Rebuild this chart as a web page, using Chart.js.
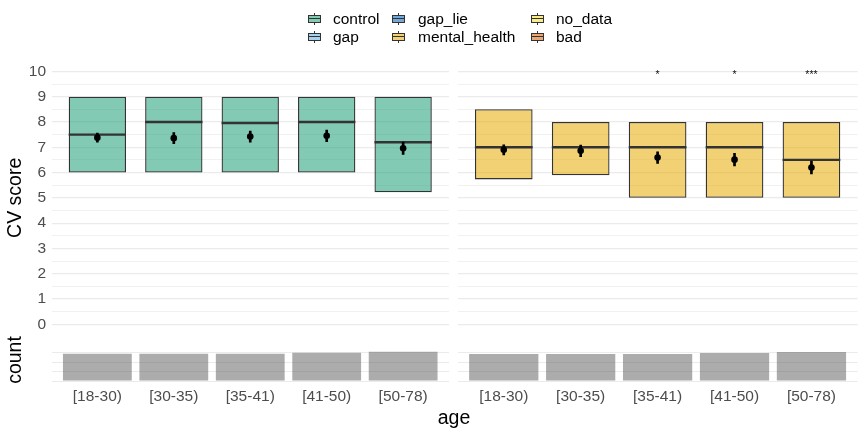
<!DOCTYPE html>
<html><head><meta charset="utf-8">
<script src="https://cdn.jsdelivr.net/npm/chart.js@4.4.1/dist/chart.umd.min.js"></script>
<style>
body{margin:0;background:#fff;font-family:"Liberation Sans",Arial,sans-serif}
#wrap{position:relative;width:864px;height:432px;overflow:hidden;background:#fff}
canvas{position:absolute;top:0}
.lt{position:absolute;font-size:15.5px;line-height:18px;color:#000;white-space:nowrap}
.key{position:absolute;width:13px;height:12px}
.key .box{position:absolute;left:0;top:2px;width:11px;height:6px;border:1px solid #333}
.key .mid{position:absolute;left:0;top:5px;width:13px;height:1px;background:#333}
.key .wt{position:absolute;left:6px;top:0;width:1px;height:2px;background:#333}
.key .wb{position:absolute;left:6px;top:10px;width:1px;height:2px;background:#333}
#age{position:absolute;left:454px;top:406px;transform:translateX(-50%);font-size:19.5px;color:#000}
</style></head>
<body><div id="wrap">
<canvas id="cl" width="453" height="432" style="left:0"></canvas>
<canvas id="cr" width="411" height="432" style="left:453px"></canvas>
<div id="age">age</div>
</div>
<script>
const ageGroups=['[18-30)','[30-35)','[35-41)','[41-50)','[50-78)'];
const yTicks=[0,1,2,3,4,5,6,7,8,9,10];
const countTicks=[0,50,100,150];
// control
const ctrlQ1=[6,6,6,6,5.22];
const ctrlQ3=[9,9,9,9,9];
const ctrlMedian=[7.5,8,7.96,8,7.2];
const ctrlMean=[7.38,7.36,7.42,7.45,6.96];
const ctrlErr=[0.18,0.22,0.22,0.23,0.245];
const ctrlCount=[145,145,145,150,155];
const ctrlSig=['','','','',''];
// mental_health
const mhQ1=[5.73,5.89,5,5,5];
const mhQ3=[8.5,8,8,8,8];
const mhMedian=[7,7,7,7,6.5];
const mhMean=[6.9,6.86,6.59,6.51,6.2];
const mhErr=[0.2,0.23,0.225,0.245,0.25];
const mhCount=[144,144,144,149,154];
const mhSig=['','','*','*','***'];
// legend
const legendNames=['control','gap','gap_lie','mental_health','no_data','bad'];
const legendColors=['rgba(27,158,119,0.55)','rgba(93,173,224,0.55)','rgba(0,97,184,0.55)','rgba(230,171,2,0.55)','rgba(242,220,46,0.55)','rgba(217,95,2,0.55)'];

const fam='"Liberation Sans", Arial, sans-serif';
Chart.defaults.font.family=fam;
const tickCol='#4D4D4D', gridCol='#EBEBEB';

// legend (3 columns x 2 rows)
const keyX=[308,392,531], textX=[333,418,556], rowY=[13,31];
legendNames.forEach((n,i)=>{
  const c=Math.floor(i/2), r=i%2;
  const k=document.createElement('div'); k.className='key';
  k.style.left=keyX[c]+'px'; k.style.top=rowY[r]+'px';
  k.innerHTML='<div class="wt"></div><div class="box" style="background:'+legendColors[i]+'"></div><div class="mid"></div><div class="wb"></div>';
  const t=document.createElement('div'); t.className='lt'; t.textContent=n;
  t.style.left=textX[c]+'px'; t.style.top=(rowY[r]-3)+'px';
  document.getElementById('wrap').append(k,t);
});

const halfGrid=[];yTicks.forEach(v=>{halfGrid.push(v);if(v<10)halfGrid.push(v+0.5)});

const extras=(med,sig)=>({
  id:'extras',
  afterDatasetDraw(chart,args){
    if(args.index!==2)return;
    const ctx=chart.ctx,y=chart.scales.y;
    ctx.save();ctx.strokeStyle='#333';ctx.lineWidth=2.4;
    args.meta.data.forEach((b,i)=>{const py=y.getPixelForValue(med[i]);ctx.beginPath();ctx.moveTo(b.x-b.width/2,py);ctx.lineTo(b.x+b.width/2,py);ctx.stroke()});
    ctx.restore();
  },
  afterDatasetsDraw(chart){
    const ctx=chart.ctx,x=chart.scales.x,y=chart.scales.y;
    ctx.save();ctx.fillStyle='#111';ctx.font='10.5px '+fam;ctx.textAlign='center';ctx.textBaseline='top';
    sig.forEach((s,i)=>{if(s)ctx.fillText(s,x.getPixelForValue(i),y.getPixelForValue(10)-1)});
    ctx.restore();
  }
});

function panel(id,q1,q3,med,mean,err,count,sig,fill,first){
  const pts=a=>a.map((v,i)=>({x:i,y:v}));
  new Chart(document.getElementById(id),{
    type:'bar',
    data:{datasets:[
      {type:'line',data:pts(mean),showLine:false,pointRadius:3.3,pointBackgroundColor:'#000',pointBorderWidth:0,yAxisID:'y',order:0},
      {data:pts(mean.map((m,i)=>[m-err[i],m+err[i]])),backgroundColor:'#000',barThickness:2,grouped:false,yAxisID:'y',order:1},
      {data:pts(q1.map((v,i)=>[v,q3[i]])),backgroundColor:fill,borderColor:'#333',borderWidth:1.3,borderSkipped:false,
       barPercentage:0.75,categoryPercentage:1,grouped:false,yAxisID:'y',order:2},
      {data:pts(count),backgroundColor:'rgba(89,89,89,0.5)',barPercentage:0.9,categoryPercentage:1,grouped:false,yAxisID:'yc',order:3}
    ]},
    options:{
      responsive:false,animation:false,
      layout:{padding:first?{top:58.7,bottom:13,left:0,right:1.5}:{top:58.7,bottom:13,left:4.6,right:6.4}},
      plugins:{legend:{display:false},tooltip:{enabled:false}},
      scales:{
        x:{type:'linear',min:-0.6,max:4.6,offset:false,
          afterBuildTicks:s=>{s.ticks=ageGroups.map((_,i)=>({value:i}))},
          ticks:{callback:v=>ageGroups[v],color:tickCol,font:{size:15.5},padding:-4,autoSkip:false,maxRotation:0},
          grid:{display:false},border:{display:false},afterFit:s=>{s.height=36}},
        yc:{type:'linear',position:'left',stack:'col',stackWeight:46,min:-10.6,max:234,
          afterBuildTicks:s=>{s.ticks=countTicks.map(v=>({value:v}))},
          ticks:{display:false},
          grid:{color:gridCol,lineWidth:1,drawTicks:false},
          border:{display:false},
          title:{display:first,text:'count',color:'#000',font:{size:19.5},padding:{top:4,bottom:0}},
          afterFit:s=>{s.width=first?51.5:0}},
        y:{type:'linear',position:'left',stack:'col',stackWeight:278.3,min:-0.5,max:10.5,
          afterBuildTicks:s=>{s.ticks=halfGrid.map(v=>({value:v}))},
          ticks:{display:first,callback:v=>Number.isInteger(v)?String(v):'',color:tickCol,font:{size:15.5},padding:5.5,autoSkip:false},
          grid:{color:gridCol,lineWidth:c=>Number.isInteger(c.tick.value)?1.2:0.7,drawTicks:false},
          border:{display:false},
          title:{display:first,text:'CV score',color:'#000',font:{size:19.5},padding:{top:4,bottom:0}},
          afterFit:s=>{s.width=first?51.5:0}}
      }
    },
    plugins:[extras(med,sig)]
  });
}
panel('cl',ctrlQ1,ctrlQ3,ctrlMedian,ctrlMean,ctrlErr,ctrlCount,ctrlSig,'rgba(27,158,119,0.55)',true);
panel('cr',mhQ1,mhQ3,mhMedian,mhMean,mhErr,mhCount,mhSig,'rgba(230,171,2,0.55)',false);
</script>
</body></html>
